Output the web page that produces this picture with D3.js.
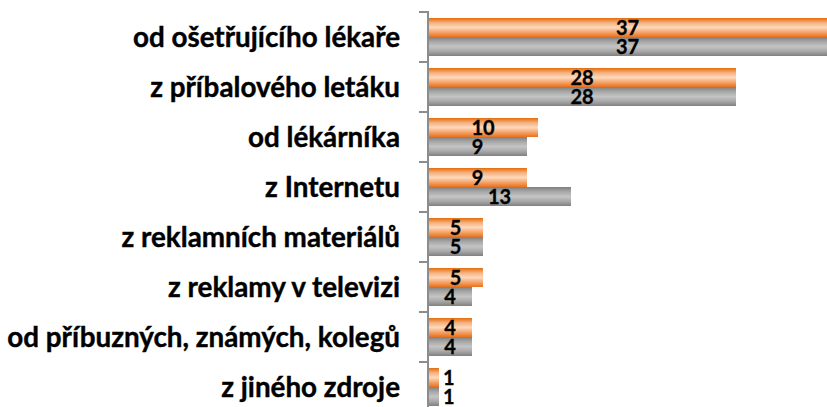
<!DOCTYPE html>
<html>
<head>
<meta charset="utf-8">
<script src="https://cdn.jsdelivr.net/npm/d3@7"></script>
<style>
    body { margin: 0; background: #fff; }
    svg { display: block; font-family: Lato, "Open Sans", sans-serif; }
</style>
</head>
<body>
<div id="chart"></div>
<script>
const categories = [
    "od ošetřujícího lékaře",
    "z příbalového letáku",
    "od lékárníka",
    "z Internetu",
    "z reklamních materiálů",
    "z reklamy v televizi",
    "od příbuzných, známých, kolegů",
    "z jiného zdroje"
];
const series_names = ["orange", "gray"];
const values_orange = [37, 28, 10, 9, 5, 5, 4, 1];
const values_gray = [37, 28, 9, 13, 5, 4, 4, 1];

const width = 827, height = 407;
const axis_x = 428;

const svg = d3.select("#chart").append("svg")
    .attr("width", width)
    .attr("height", height);

// gradients, dark edge -> light middle -> dark edge
const defs = svg.append("defs");
const gradient_stops = {
    orange: ["#e46c0a", "#f5b07f", "#fcd9bd", "#f4a46a", "#e8711c"],
    gray: ["#7f7f7f", "#a8a8a8", "#c4c4c4", "#a8a8a8", "#808080"]
};
for (const name of series_names) {
    const g = defs.append("linearGradient")
        .attr("id", "grad_" + name)
        .attr("x1", 0).attr("y1", 0).attr("x2", 0).attr("y2", 1);
    gradient_stops[name].forEach((c, i, arr) => {
        g.append("stop").attr("offset", i / (arr.length - 1)).attr("stop-color", c);
    });
}

const y = d3.scaleBand()
    .domain(categories)
    .range([12, 412])
    .paddingInner(0.24)
    .paddingOuter(0.12);

const y_inner = d3.scaleBand()
    .domain(series_names)
    .range([0, y.bandwidth()]);

const x = d3.scaleLinear()
    .domain([0, 399 / 11])
    .range([axis_x, width]);

const rows = categories.map((c, i) => ({
    category: c,
    bars: [
        {series: "orange", value: values_orange[i]},
        {series: "gray", value: values_gray[i]}
    ]
}));

// category labels
svg.selectAll("text.cat_label")
    .data(categories)
    .join("text")
    .classed("cat_label", true)
    .attr("x", 400)
    .attr("y", d => y(d) + y.bandwidth() / 2 + 10)
    .attr("text-anchor", "end")
    .style("font-size", "27.8px")
    .style("font-weight", "bold")
    .attr("fill", "#000")
    .attr("stroke", "#000")
    .attr("stroke-width", 0.4)
    .text(d => d);

const row_g = svg.selectAll("g.row")
    .data(rows)
    .join("g")
    .classed("row", true)
    .attr("transform", d => "translate(0," + y(d.category) + ")");

const bar_g = row_g.selectAll("g.bar")
    .data(d => d.bars)
    .join("g")
    .classed("bar", true);

bar_g.append("rect")
    .attr("x", x(0))
    .attr("y", d => y_inner(d.series))
    .attr("width", d => x(d.value) - x(0))
    .attr("height", y_inner.bandwidth())
    .attr("fill", d => "url(#grad_" + d.series + ")");

bar_g.append("text")
    .text(d => d.value)
    .style("font-size", "20px")
    .style("font-weight", "bold")
    .attr("fill", "#000")
    .attr("stroke", "#000")
    .attr("stroke-width", 0.3)
    .attr("y", d => y_inner(d.series) + y_inner.bandwidth() - 2)
    .each(function (d) {
        const len = this.getComputedTextLength();
        const bar_end = Math.min(x(d.value), width);
        const bar_w = bar_end - x(0);
        if (bar_w < len + 4) {
            d3.select(this).attr("x", bar_end + 4).attr("text-anchor", "start");
        } else {
            d3.select(this).attr("x", (x(0) + bar_end) / 2).attr("text-anchor", "middle");
        }
    });

// vertical axis with ticks at band boundaries
const tick_ys = categories.map(c => y(c) - y.step() * y.paddingInner() / 2).concat([412]);
svg.selectAll("line.tick")
    .data(tick_ys)
    .join("line")
    .classed("tick", true)
    .attr("x1", axis_x - 9).attr("x2", axis_x)
    .attr("y1", d => d).attr("y2", d => d)
    .attr("stroke", "#8c8c8c")
    .attr("stroke-width", 2);

svg.append("line")
    .attr("x1", axis_x).attr("x2", axis_x)
    .attr("y1", tick_ys[0] - 1).attr("y2", 412)
    .attr("stroke", "#8c8c8c")
    .attr("stroke-width", 2);
</script>
</body>
</html>
